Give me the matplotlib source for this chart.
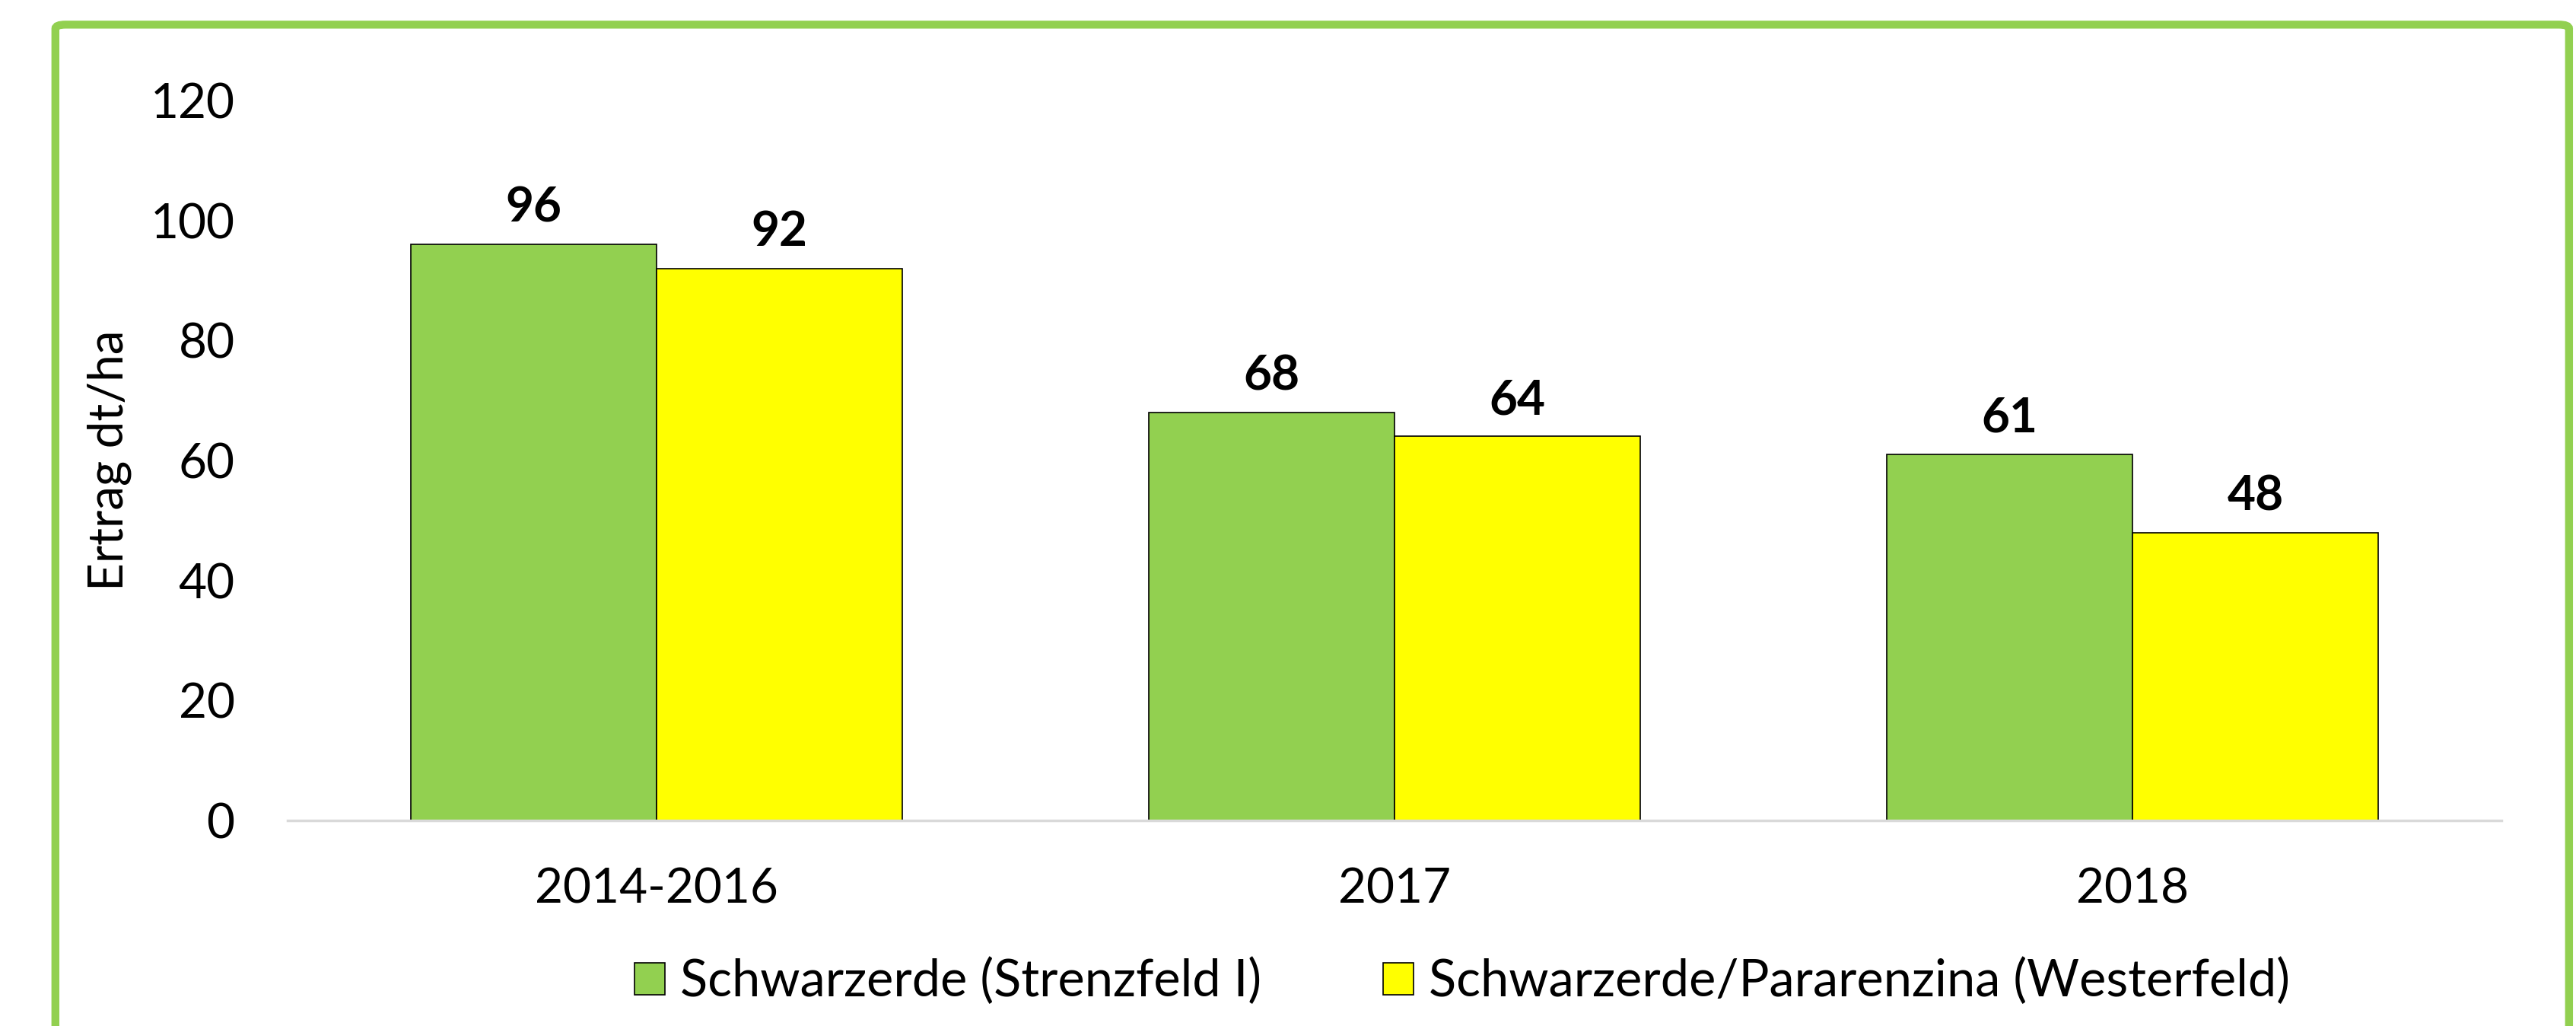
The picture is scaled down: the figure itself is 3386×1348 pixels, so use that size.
import matplotlib.pyplot as plt
from matplotlib.patches import FancyBboxPatch
import numpy as np

plt.rcParams['font.family'] = ['Lato', 'DejaVu Sans']

# data
categories = ['2014-2016', '2017', '2018']
series_names = ['Schwarzerde (Strenzfeld I)', 'Schwarzerde/Pararenzina (Westerfeld)']
strenzfeld = [96, 68, 61]
westerfeld = [92, 64, 48]
colors = ['#92D050', '#FFFF00']

fig = plt.figure(figsize=(33.87, 13.48), dpi=100)

# green rounded frame round the chart (bottom edge runs off the picture)
frame = FancyBboxPatch((0.0215, -0.05), 0.9755, 1.026,
                       boxstyle='round,pad=0,rounding_size=0.004',
                       transform=fig.transFigure, facecolor='none',
                       edgecolor='#92D050', linewidth=7.5, zorder=0)
fig.patches.append(frame)

ax = fig.add_axes([0.1116, 0.2003, 0.8592, 0.7018])
ax.set_facecolor('none')

x = np.arange(len(categories))
w = 1 / 3
bars1 = ax.bar(x - w / 2, strenzfeld, w, color=colors[0], edgecolor='black',
               linewidth=1.2, label=series_names[0])
bars2 = ax.bar(x + w / 2, westerfeld, w, color=colors[1], edgecolor='black',
               linewidth=1.2, label=series_names[1])

for bars in (bars1, bars2):
    for b in bars:
        ax.annotate(f'{b.get_height():.0f}', (b.get_x() + b.get_width() / 2, b.get_height()),
                    xytext=(0, 14), textcoords='offset points', ha='center', va='bottom',
                    fontsize=46, fontweight='bold')

ax.set_xlim(-0.5, 2.5)
ax.set_ylim(0, 120)
ax.set_yticks(range(0, 121, 20))
ax.set_xticks(x)
ax.set_xticklabels(categories)
ax.tick_params(axis='both', length=0, labelsize=46)
ax.tick_params(axis='x', pad=44)
ax.tick_params(axis='y', pad=50)
ax.set_ylabel('Ertrag dt/ha', fontsize=46, labelpad=18)

for s in ['top', 'right', 'left']:
    ax.spines[s].set_visible(False)
ax.spines['bottom'].set_color('#D9D9D9')
ax.spines['bottom'].set_linewidth(2.5)

fig.legend(loc='center', bbox_to_anchor=(0.5675, 0.043), ncol=2, frameon=False,
           fontsize=48, handlelength=0.6, handleheight=0.6, handletextpad=0.3,
           columnspacing=2.4)

fig.savefig('out.png', dpi=100)
